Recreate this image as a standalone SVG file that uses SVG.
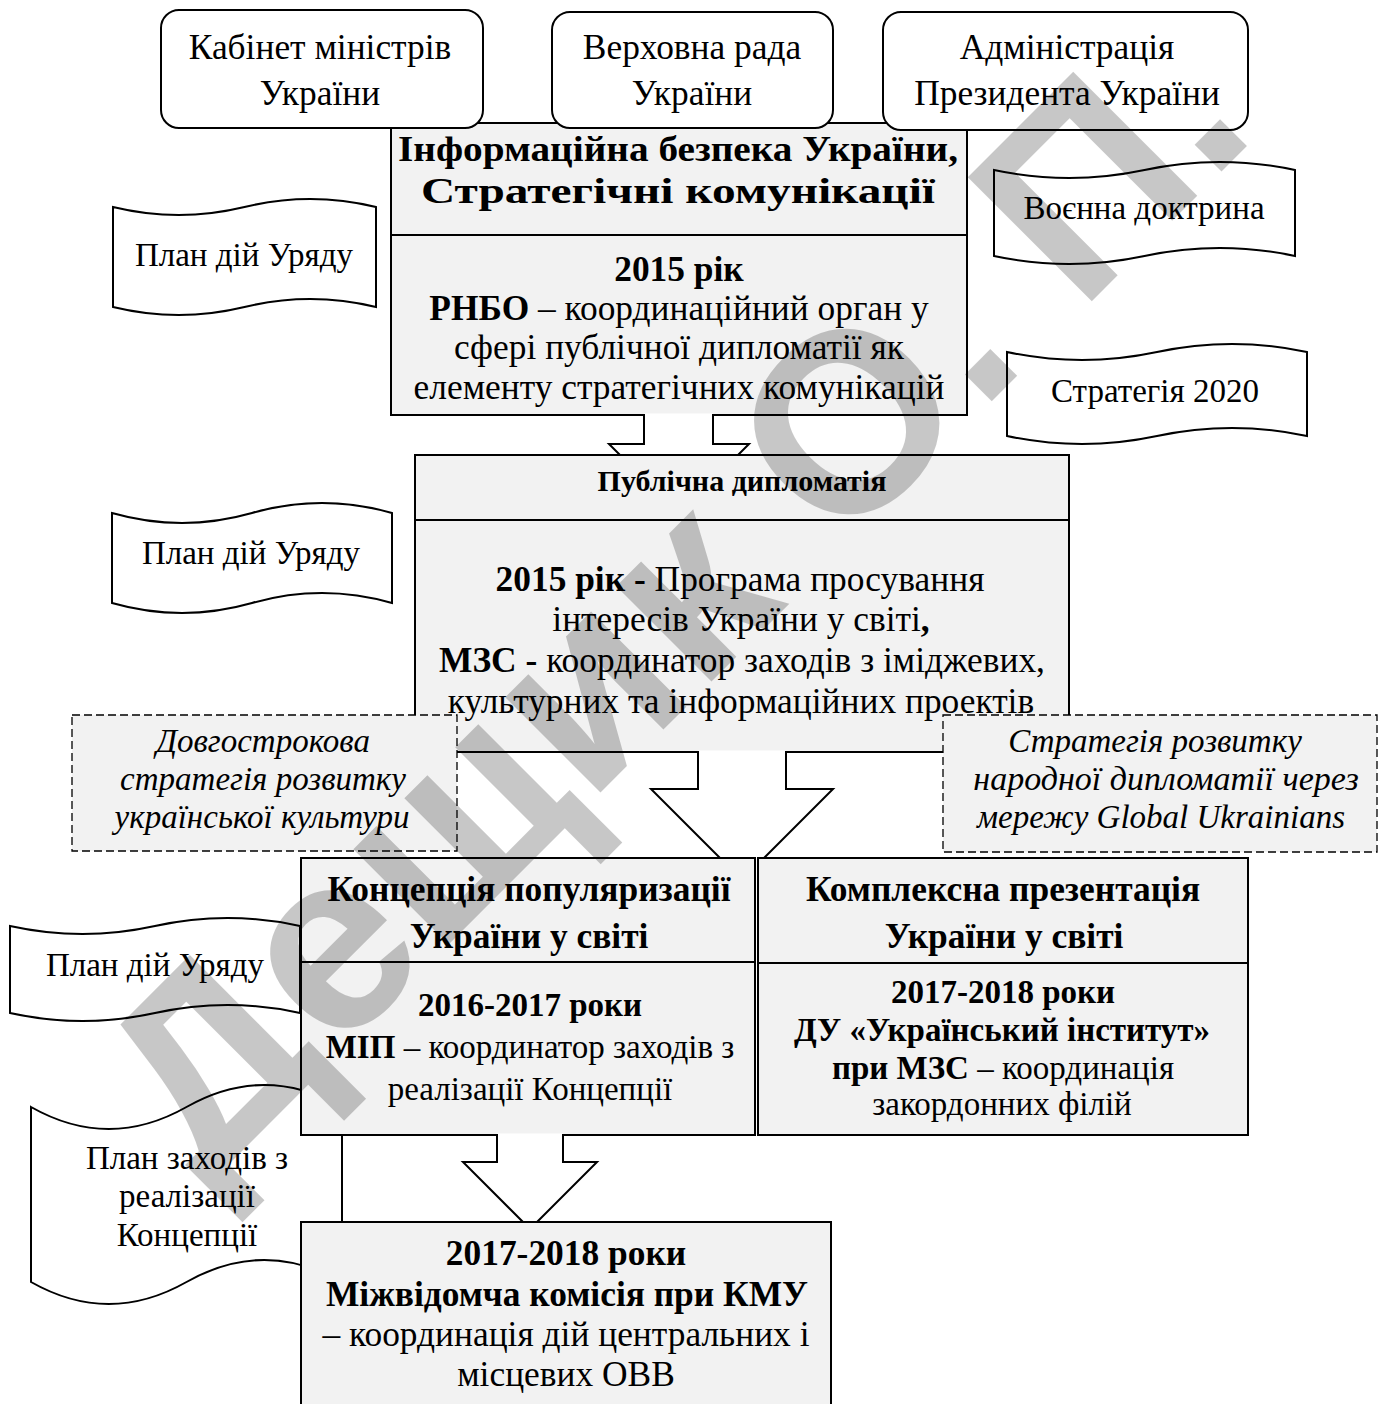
<svg xmlns="http://www.w3.org/2000/svg" width="1384" height="1404" viewBox="0 0 1384 1404">
<style>
.box{fill:#f2f2f2;stroke:#000;stroke-width:2}
.rbox{fill:#fff;stroke:#000;stroke-width:2}
.doc{fill:#fff;stroke:#000;stroke-width:2}
.dash{fill:#f2f2f2;stroke:#000;stroke-width:1.3;stroke-dasharray:8 4}
.afill{fill:#fff;stroke:none}
.aline{fill:none;stroke:#000;stroke-width:2}
.sep{stroke:#000;stroke-width:2}
text{font-family:"Liberation Serif","Times New Roman",serif;font-size:33px;fill:#000;text-anchor:middle}
.L{font-size:35.4px}
.H{font-size:36px}
.b{font-weight:bold}
.i{font-style:italic}
.wm{font-family:"Liberation Sans",Arial,sans-serif;font-weight:bold;font-size:255px;fill:#000;fill-opacity:0.22;text-anchor:start}
</style>
<rect width="1384" height="1404" fill="#fff"/>

<g id="doc-plan-zakhodiv">
<path class="doc" d="M31,1107 Q108.75,1151 186.5,1107 T342,1107 L342,1282 Q264.25,1238 186.5,1282 T31,1282 Z"/>
<text x="187" y="1169">План заходів з</text>
<text x="187" y="1207">реалізації</text>
<text x="187" y="1246">Концепції</text>
</g>
<g id="doc-plan-3">
<path class="doc" d="M10,926 Q82.5,942 155,926 T300,926 L300,1013 Q227.5,997 155,1013 T10,1013 Z"/>
<text x="155" y="976">План дій Уряду</text>
</g>

<g id="box-infobezpeka">
<rect class="box" x="391" y="123" width="576" height="292"/>
<line class="sep" x1="391" y1="235" x2="967" y2="235"/>
<text class="b H" x="678" y="161" textLength="560" lengthAdjust="spacingAndGlyphs">Інформаційна безпека України,</text>
<text class="b H" x="678" y="203" textLength="514" lengthAdjust="spacingAndGlyphs">Стратегічні комунікації</text>
<text class="b L" x="679" y="281">2015 рік</text>
<text class="L" x="679" y="320"><tspan class="b">РНБО</tspan> – координаційний орган у</text>
<text class="L" x="679" y="359">сфері публічної дипломатії як</text>
<text class="L" x="679" y="399">елементу стратегічних комунікацій</text>
</g>

<g id="node-kabinet">
<rect class="rbox" x="161" y="10" width="322" height="118" rx="18"/>
<text class="L" x="320" y="59">Кабінет міністрів</text>
<text class="L" x="320" y="105">України</text>
</g>
<g id="node-rada">
<rect class="rbox" x="552" y="12" width="281" height="116" rx="18"/>
<text class="L" x="692" y="59">Верховна рада</text>
<text class="L" x="692" y="105">України</text>
</g>
<g id="node-admin">
<rect class="rbox" x="883" y="12" width="365" height="118" rx="18"/>
<text class="L" x="1067" y="59">Адміністрація</text>
<text class="L" x="1067" y="105">Президента України</text>
</g>

<g id="doc-plan-1">
<path class="doc" d="M113,207 Q178.75,223 244.5,207 T376,207 L376,307 Q310.25,291 244.5,307 T113,307 Z"/>
<text x="244" y="266">План дій Уряду</text>
</g>
<g id="doc-voenna">
<path class="doc" d="M994,170 Q1069.25,186 1144.5,170 T1295,170 L1295,256 Q1219.75,240 1144.5,256 T994,256 Z"/>
<text x="1144" y="219">Воєнна доктрина</text>
</g>
<g id="doc-strategiya">
<path class="doc" d="M1007,352 Q1082,368 1157,352 T1307,352 L1307,436 Q1232,420 1157,436 T1007,436 Z"/>
<text x="1155" y="402">Стратегія 2020</text>
</g>
<g id="doc-plan-2">
<path class="doc" d="M112,513 Q182,533 252,513 T392,513 L392,603 Q322,583 252,603 T112,603 Z"/>
<text x="251" y="564">План дій Уряду</text>
</g>

<g id="box-publichna">
<rect class="box" x="415" y="455" width="654" height="297"/>
<line class="sep" x1="415" y1="520" x2="1069" y2="520"/>
<text class="b" x="742" y="491" style="font-size:30px">Публічна дипломатія</text>
<text class="L" x="740" y="591"><tspan class="b">2015 рік -</tspan> Програма просування</text>
<text class="L" x="741" y="631">інтересів України у світі<tspan class="b">,</tspan></text>
<text class="L" x="742" y="672"><tspan class="b">МЗС -</tspan> координатор заходів з іміджевих,</text>
<text class="L" x="741" y="713">культурних та інформаційних проектів</text>
</g>

<g id="dash-kultura">
<rect class="dash" x="72" y="715" width="385" height="136"/>
<text class="i" x="263" y="752">Довгострокова</text>
<text class="i" x="263" y="790">стратегія розвитку</text>
<text class="i" x="262" y="828">української культури</text>
</g>
<g id="dash-global">
<rect class="dash" x="943" y="715" width="434" height="137"/>
<text class="i" x="1155" y="752">Стратегія розвитку</text>
<text class="i" x="1166" y="790" style="font-size:34px">народної дипломатії через</text>
<text class="i" x="1161" y="828">мережу Global Ukrainians</text>
</g>

<g id="box-kontseptsiya">
<rect class="box" x="301" y="858" width="454" height="277"/>
<line class="sep" x1="301" y1="962" x2="755" y2="962"/>
<text class="b L" x="529" y="901">Концепція популяризації</text>
<text class="b L" x="529" y="948">України у світі</text>
<text class="b" x="530" y="1016">2016-2017 роки</text>
<text x="530" y="1058"><tspan class="b">МІП</tspan> – координатор заходів з</text>
<text x="530" y="1100">реалізації Концепції</text>
</g>
<g id="box-kompleksna">
<rect class="box" x="758" y="858" width="490" height="277"/>
<line class="sep" x1="758" y1="963" x2="1248" y2="963"/>
<text class="b L" x="1003" y="901">Комплексна презентація</text>
<text class="b L" x="1004" y="948">України у світі</text>
<text class="b" x="1003" y="1003">2017-2018 роки</text>
<text class="b" x="1002" y="1041">ДУ «Український інститут»</text>
<text x="1003" y="1079"><tspan class="b">при МЗС</tspan> – координація</text>
<text x="1002" y="1115">закордонних філій</text>
</g>
<g id="box-mizhvidomcha">
<rect class="box" x="301" y="1222" width="530" height="190"/>
<text class="b L" x="566" y="1265">2017-2018 роки</text>
<text class="b L" x="567" y="1306">Міжвідомча комісія при КМУ</text>
<text class="L" x="566" y="1346">– координація дій центральних і</text>
<text class="L" x="566" y="1386">місцевих ОВВ</text>
</g>

<g id="connectors">
<polygon class="afill" points="644,413.5 713,413.5 713,444 749,444 739,454 619,454 609,444 644,444"/>
<path class="aline" d="M644,414 V444 H609 L620,455 M713,414 V444 H749 L738,455"/>
<polygon class="afill" points="698,750.5 786,750.5 786,789 833,789 765,857 719,857 651,789 698,789"/>
<path class="aline" d="M698,751 V789 H651 L720,858 M786,751 V789 H833 L764,858"/>
<polygon class="afill" points="497,1133.5 563,1133.5 563,1162 597,1162 538,1221 522,1221 463,1162 497,1162"/>
<path class="aline" d="M497,1134 V1162 H463 L523,1222 M563,1134 V1162 H597 L537,1222"/>
</g>

<text class="wm" x="205" y="1188" transform="rotate(-45 205 1188)">Дещик О. П.</text>
</svg>
